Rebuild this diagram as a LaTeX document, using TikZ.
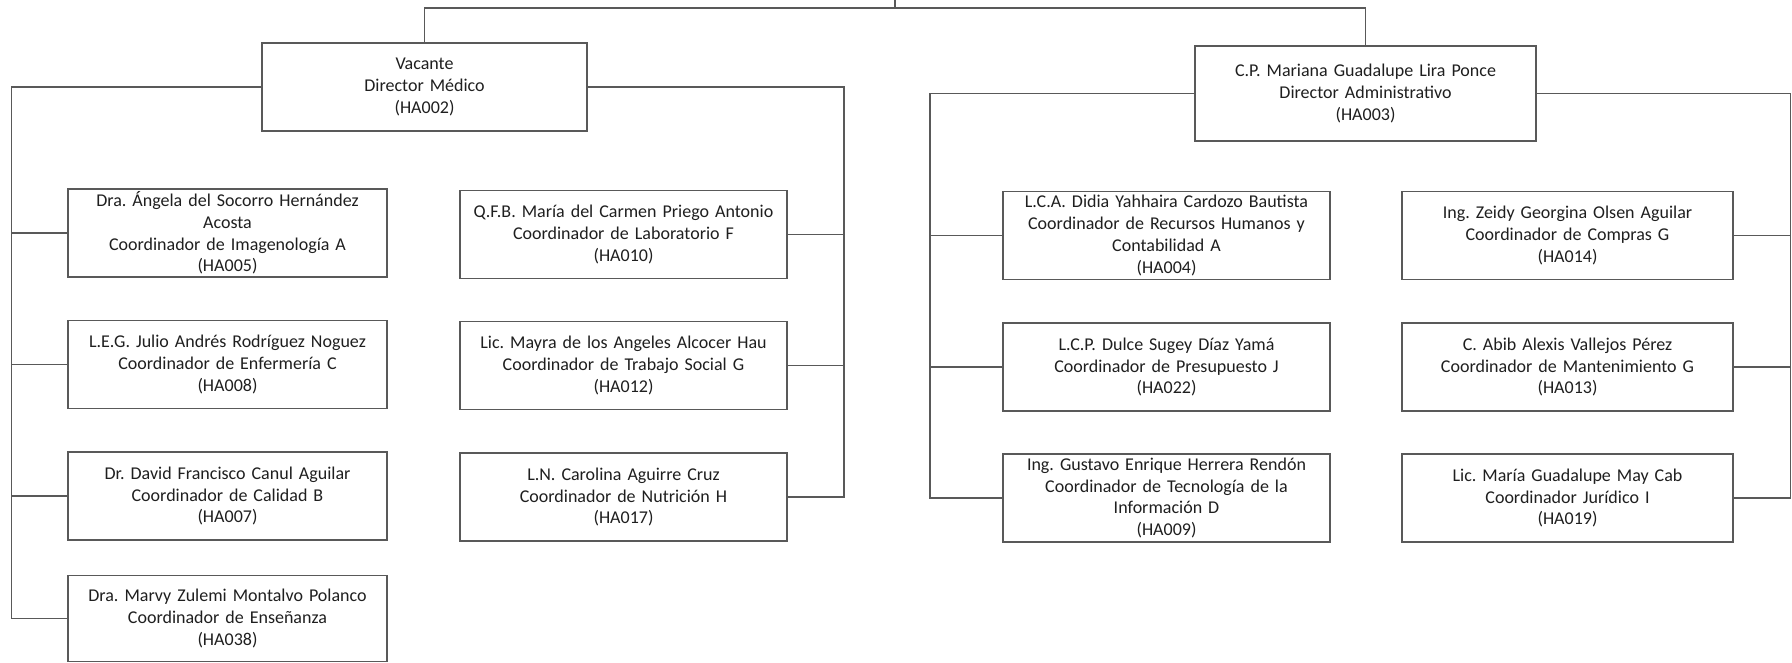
\documentclass[tikz,border=0pt]{standalone}
\usepackage{fontspec}
\setmainfont{Carlito}
\frenchspacing
\definecolor{linea}{gray}{0.35}
\definecolor{texto}{gray}{0.12}
\tikzset{
  puesto/.style={draw=linea, line width=0.7pt, text=texto, inner sep=0pt, align=center,
    minimum height=44pt, font=\fontsize{9}{10.9}\selectfont},
  ramal/.style={draw=linea, line width=0.7pt},
}

\begin{document}
\begin{tikzpicture}[x=0.5pt,y=-0.5pt]
	\useasboundingbox[fill=white] (0,0) rectangle (1792,663);
	\def\colA{159.5pt};
	\def\colB{163.5pt};
	\def\colC{163.5pt};
	\def\colD{165.5pt};
	
	% directores
	\node[puesto, text width=162.5pt] (dm) at (424.5,87) {Vacante\\Director Médico\\(HA002)};
	\node[puesto, text width=170.5pt, minimum height=47.5pt] (da) at (1365.5,93.5) {C.P. Mariana Guadalupe Lira Ponce\\Director Administrativo\\(HA003)};
	
	% area medica
	\node[puesto, text width=\colA] (ha005) at (227.5,233) {Dra. Ángela del Socorro Hernández\\Acosta\\Coordinador de Imagenología A\\(HA005)};
	\node[puesto, text width=\colA] (ha008) at (227.5,364.5) {L.E.G. Julio Andrés Rodríguez Noguez\\Coordinador de Enfermería C\\(HA008)};
	\node[puesto, text width=\colA] (ha007) at (227.5,496) {Dr. David Francisco Canul Aguilar\\Coordinador de Calidad B\\(HA007)};
	\node[puesto, text width=\colA, minimum height=43pt] (ha038) at (227.5,618.5) {Dra. Marvy Zulemi Montalvo Polanco\\Coordinador de Enseñanza\\(HA038)};
	
	\node[puesto, text width=\colB] (ha010) at (623.5,234.5) {Q.F.B. María del Carmen Priego Antonio\\Coordinador de Laboratorio F\\(HA010)};
	\node[puesto, text width=\colB] (ha012) at (623.5,365.5) {Lic. Mayra de los Angeles Alcocer Hau\\Coordinador de Trabajo Social G\\(HA012)};
	\node[puesto, text width=\colB] (ha017) at (623.5,497) {L.N. Carolina Aguirre Cruz\\Coordinador de Nutrición H\\(HA017)};
	
	% area administrativa
	\node[puesto, text width=\colC] (ha004) at (1166.5,235.5) {L.C.A. Didia Yahhaira Cardozo Bautista\\Coordinador de Recursos Humanos y\\Contabilidad A\\(HA004)};
	\node[puesto, text width=\colC] (ha022) at (1166.5,367) {L.C.P. Dulce Sugey Díaz Yamá\\Coordinador de Presupuesto J\\(HA022)};
	\node[puesto, text width=\colC] (ha009) at (1166.5,498) {Ing. Gustavo Enrique Herrera Rendón\\Coordinador de Tecnología de la\\Información D\\(HA009)};
	
	\node[puesto, text width=\colD] (ha014) at (1567.5,235.5) {Ing. Zeidy Georgina Olsen Aguilar\\Coordinador de Compras G\\(HA014)};
	\node[puesto, text width=\colD] (ha013) at (1567.5,367) {C. Abib Alexis Vallejos Pérez\\Coordinador de Mantenimiento G\\(HA013)};
	\node[puesto, text width=\colD] (ha019) at (1567.5,498) {Lic. María Guadalupe May Cab\\Coordinador Jurídico I\\(HA019)};
	
	% buses
	\coordinate (tc) at (895,0);
	\coordinate (tb) at (895,8);
	\coordinate (bi1) at (11.5,300);
	\coordinate (bd1) at (844,300);
	\coordinate (bi2) at (930,300);
	\coordinate (bd2) at (1790.5,300);
	
	\draw[ramal] (tc) -- (tb);
	\draw[ramal] (dm.north) |- (tb) -| (da.north);
	
	\draw[ramal] (dm.west) -| (bi1) |- (ha038.west);
	\draw[ramal] (dm.east) -| (bd1) |- (ha017.east);
	\foreach \n in {ha005,ha008,ha007}
		\draw[ramal] (\n.west) -- (\n.west -| bi1);
	\foreach \n in {ha010,ha012}
		\draw[ramal] (\n.east) -- (\n.east -| bd1);
	
	\draw[ramal] (da.west) -| (bi2) |- (ha009.west);
	\draw[ramal] (da.east) -| (bd2) |- (ha019.east);
	\foreach \n in {ha004,ha022}
		\draw[ramal] (\n.west) -- (\n.west -| bi2);
	\foreach \n in {ha014,ha013}
		\draw[ramal] (\n.east) -- (\n.east -| bd2);
\end{tikzpicture}
\end{document}
